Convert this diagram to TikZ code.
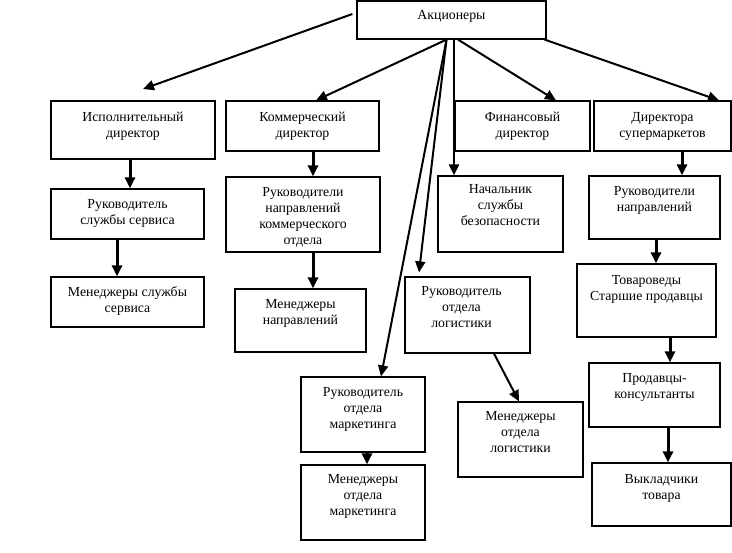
\documentclass[tikz,border=0pt]{standalone}
\usepackage{fontspec}
\setmainfont{Liberation Serif}
\usetikzlibrary{arrows.meta}
\newcommand{\fl}{\rule{0pt}{12pt}}
\tikzset{
  box/.style={draw=black, line width=1.2pt, inner sep=0pt, fill=white},
  txt/.style={anchor=north, inner sep=0pt, align=center, font=\fontsize{13.8}{16}\selectfont},
  darrow/.style={line width=2pt, -{Triangle[length=11pt,width=10pt]}},
  varrow/.style={line width=3pt, -{Triangle[length=11pt,width=10pt]}},
}
\begin{document}
\begin{tikzpicture}[x=1pt,y=-1pt]
\useasboundingbox[fill=white] (0,0) rectangle (732,553);
% boxes
\node[box, minimum width=189pt, minimum height=38pt] (a)   at (451.5,20) {};
\node[box, minimum width=164pt, minimum height=58pt] (isp) at (133,130) {};
\node[box, minimum width=153pt, minimum height=50pt] (kom) at (302.5,126) {};
\node[box, minimum width=135pt, minimum height=50pt] (fin) at (522.5,126) {};
\node[box, minimum width=137pt, minimum height=50pt] (dir) at (662.5,126) {};
\node[box, minimum width=153pt, minimum height=50pt] (rss) at (127.5,214) {};
\node[box, minimum width=154pt, minimum height=75pt] (rnk) at (303,214.5) {};
\node[box, minimum width=125pt, minimum height=76pt] (nsb) at (500.5,214) {};
\node[box, minimum width=131pt, minimum height=63pt] (rn)  at (654.5,207.5) {};
\node[box, minimum width=153pt, minimum height=50pt] (mss) at (127.5,302) {};
\node[box, minimum width=131pt, minimum height=63pt] (mn)  at (300.5,320.5) {};
\node[box, minimum width=125pt, minimum height=76pt] (rol) at (467.5,315) {};
\node[box, minimum width=139pt, minimum height=73pt] (tov) at (646.5,300.5) {};
\node[box, minimum width=124pt, minimum height=75pt] (rom) at (363,414.5) {};
\node[box, minimum width=125pt, minimum height=75pt] (mol) at (520.5,439.5) {};
\node[box, minimum width=131pt, minimum height=64pt] (pk)  at (654.5,395) {};
\node[box, minimum width=124pt, minimum height=75pt] (mom) at (363,502.5) {};
\node[box, minimum width=139pt, minimum height=63pt] (vt)  at (661.5,494.5) {};
% texts
\node[txt] (ta)   at ([yshift=-7pt]a.north)   {\fl Акционеры};
\node[txt] (tisp) at ([yshift=-9pt]isp.north) {\fl Исполнительный\\директор};
\node[txt] (tkom) at ([yshift=-9pt]kom.north) {\fl Коммерческий\\директор};
\node[txt] (tfin) at ([yshift=-9pt]fin.north) {\fl Финансовый\\директор};
\node[txt] (tdir) at ([yshift=-9pt]dir.north) {\fl Директора\\супермаркетов};
\node[txt] (trss) at ([yshift=-8pt]rss.north) {\fl Руководитель\\службы сервиса};
\node[txt] (trnk) at ([yshift=-8pt]rnk.north) {\fl Руководители\\направлений\\коммерческого\\отдела};
\node[txt] (tnsb) at ([yshift=-6pt]nsb.north) {\fl Начальник\\службы\\безопасности};
\node[txt] (trn)  at ([yshift=-8pt]rn.north)  {\fl Руководители\\направлений};
\node[txt] (tmss) at ([yshift=-8pt]mss.north) {\fl Менеджеры службы\\сервиса};
\node[txt] (tmn)  at ([yshift=-8pt]mn.north)  {\fl Менеджеры\\направлений};
\node[txt] (trol) at ([xshift=-6pt,yshift=-7pt]rol.north) {\fl Руководитель\\отдела\\логистики};
\node[txt] (ttov) at ([yshift=-9pt]tov.north) {\fl Товароведы\\Старшие продавцы};
\node[txt] (trom) at ([yshift=-8pt]rom.north) {\fl Руководитель\\отдела\\маркетинга};
\node[txt] (tmol) at ([yshift=-7pt]mol.north) {\fl Менеджеры\\отдела\\логистики};
\node[txt] (tpk)  at ([yshift=-8pt]pk.north)  {\fl Продавцы-\\консультанты};
\node[txt] (tmom) at ([yshift=-7pt]mom.north) {\fl Менеджеры\\отдела\\маркетинга};
\node[txt] (tvt)  at ([yshift=-9pt]vt.north)  {\fl Выкладчики\\товара};
% diagonal arrows from shareholders
\coordinate (isptip) at (143,89);
\draw[darrow] ([xshift=-4pt,yshift=6pt]a.west) -- (isptip);
\draw[darrow] ([xshift=-5pt]a.south) -- ([xshift=13.5pt]kom.north);
\draw[darrow] ([xshift=-5pt]a.south) -- ([xshift=-48.5pt,yshift=4pt]rol.north);
\draw[darrow] ([xshift=-5pt]a.south) -- ([xshift=18pt]rom.north);
\draw[darrow] ([xshift=2.5pt]a.south) -- ([xshift=-46.5pt]nsb.north);
\draw[darrow] ([xshift=6.5pt]a.south) -- ([xshift=33.5pt]fin.north);
\draw[darrow] ([xshift=-2pt]a.south east) -- ([xshift=56.5pt]dir.north);
% vertical arrows
\draw[varrow] ([xshift=-3pt]isp.south) -- ([xshift=2.5pt]rss.north);
\draw[varrow] ([xshift=-10.5pt]rss.south) -- ([xshift=-10.5pt]mss.north);
\draw[varrow] ([xshift=10.5pt]kom.south) -- ([xshift=10pt]rnk.north);
\draw[varrow] ([xshift=10pt]rnk.south) -- ([xshift=12.5pt]mn.north);
\draw[varrow] ([xshift=19.5pt]dir.south) -- ([xshift=27.5pt]rn.north);
\draw[varrow] ([xshift=1.5pt]rn.south) -- ([xshift=9.5pt]tov.north);
\draw[varrow] ([xshift=23.5pt]tov.south) -- ([xshift=15.5pt]pk.north);
\draw[varrow] ([xshift=13.5pt]pk.south) -- ([xshift=6.5pt]vt.north);
\draw[varrow] ([xshift=4pt]rom.south) -- ([xshift=4pt]mom.north);
\draw[darrow] ([xshift=26.5pt]rol.south) -- ([xshift=-1.5pt]mol.north);
\end{tikzpicture}
\end{document}
